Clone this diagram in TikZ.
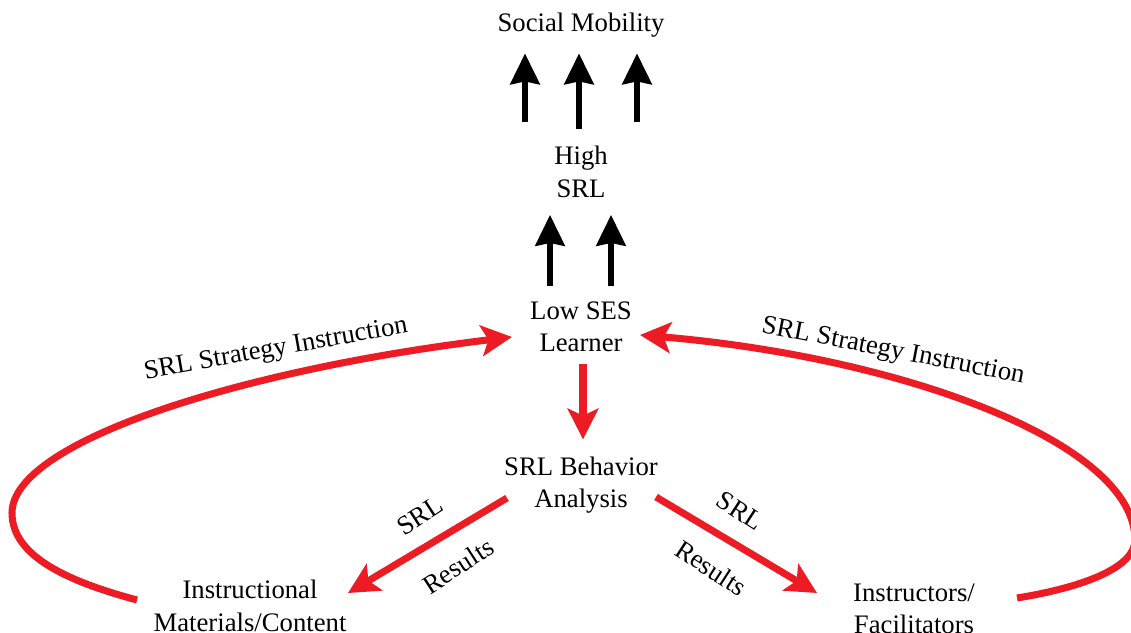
\documentclass[tikz,border=0pt]{standalone}
\usepackage{fontspec}
\setmainfont{Liberation Serif}
\usetikzlibrary{arrows.meta,calc}
\definecolor{srlred}{HTML}{ED1C24}

\begin{document}
\begin{tikzpicture}[x=0.02cm,y=0.02cm,
    every node/.style={font=\fontsize{15.2}{18.5}\selectfont, align=center},
    redarrow/.style={draw=srlred, line width=4pt, -{Stealth[length=17.5pt,width=17.5pt,inset=4pt]}},
    blackarrow/.style={draw=black, line width=3.6pt, -{Stealth[length=17.5pt,width=16.5pt,inset=1.5pt]}}]
  \useasboundingbox (0,0) rectangle (1131,632);
  % nodes
  \node (soc)  at (581,607) {Social Mobility};
  \node (high) at (581,460) {High\\SRL};
  \node (low)  at (581,305) {Low SES\\Learner};
  \node (beh)  at (581,147) {SRL Behavior\\Analysis};
  \node (inst) at (250,26)  {Instructional\\Materials/Content};
  \node (fac)  at (914,23)  {Instructors/\\Facilitators};
  % black arrows
  \foreach \xo/\yo in {-56/18, -2/11, 56/18}
    \draw[blackarrow] ($(high.north)+(\xo,\yo)$) -- ($(soc.south)+(\xo,-10)$);
  \foreach \xo in {-31, 30}
    \draw[blackarrow] ($(low.north)+(\xo,10)$) -- ($(high.south)+(\xo,-11)$);
  % red arrows
  \draw[redarrow] ($(low.south)+(2,-6)$) -- ($(beh.north)+(2,11)$);
  \draw[redarrow] ($(beh.center)+(-74,-13)$) -- ($(inst.center)+(98,13)$);
  \draw[redarrow] ($(beh.center)+(75,-12)$) -- ($(fac.center)+(-97,16)$);
  % feedback loops
  \draw[redarrow] ($(inst.center)+(-113,6)$) .. controls (70,50) and (12,75) .. (12,119)
    .. controls (12,190) and (240,262) .. ($(low.center)+(-69,-10)$);
  \draw[redarrow] ($(fac.center)+(103,11)$) .. controls (1085,45) and (1135,65) .. (1135,92)
    .. controls (1135,190) and (900,275) .. ($(low.center)+(59,-8)$);
  % labels
  \node[rotate=10]  (lsi) at (276,282) {SRL Strategy Instruction};
  \node[rotate=-11] (rsi) at (893,280) {SRL Strategy Instruction};
  \node[rotate=33]  (lsrl) at (420,116) {SRL};
  \node[rotate=33]  (lres) at (458,66)  {Results};
  \node[rotate=-33] (rsrl) at (740,121) {SRL};
  \node[rotate=-33] (rres) at (711,64)  {Results};
\end{tikzpicture}
\end{document}
